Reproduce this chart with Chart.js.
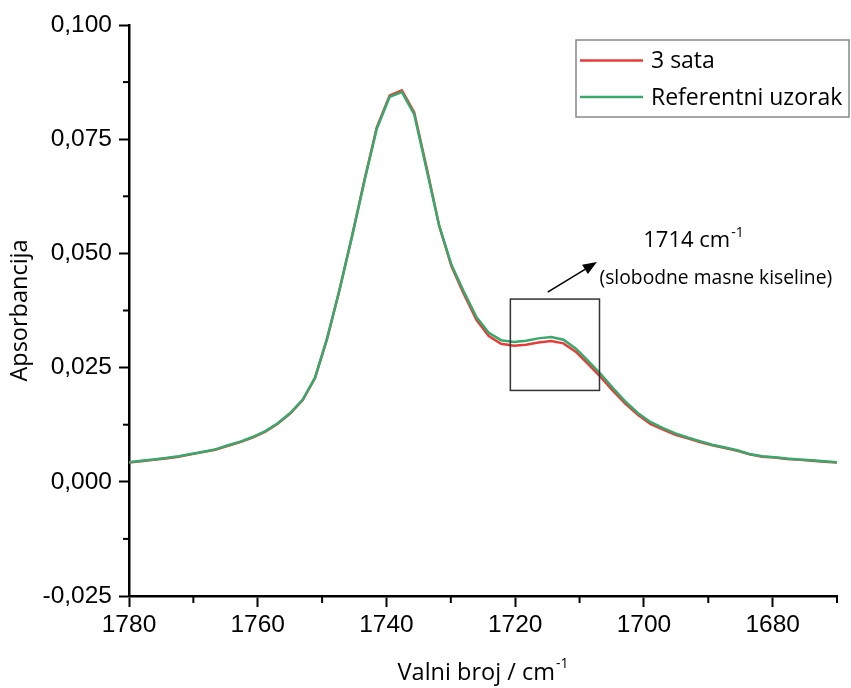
<!DOCTYPE html>
<html>
<head>
<meta charset="utf-8">
<script src="https://cdn.jsdelivr.net/npm/chart.js@4.4.1/dist/chart.umd.min.js"></script>
<style>
  html, body { margin: 0; padding: 0; background: #fff; }
  #wrap { width: 851px; height: 688px; position: relative; }
</style>
</head>
<body>
<div id="wrap"><canvas id="c" width="851" height="688"></canvas></div>
<script>
// ---- data ----
const wavenumbers = [1780.0,1778.1,1776.2,1774.3,1772.3,1770.4,1768.5,1766.6,1764.6,1762.7,
  1760.8,1758.8,1756.9,1755.0,1753.0,1751.1,1749.2,1747.3,1745.3,1743.4,
  1741.5,1739.5,1737.6,1735.7,1733.7,1731.8,1729.9,1728.0,1726.0,1724.1,
  1722.2,1720.2,1718.3,1716.4,1714.4,1712.5,1710.6,1708.7,1706.7,1704.8,
  1702.9,1700.9,1699.0,1697.1,1695.1,1693.2,1691.3,1689.4,1687.4,1685.5,
  1683.6,1681.6,1679.7,1677.8,1675.8,1673.9,1672.0,1670.0];

const referentniUzorak = [0.0043,0.0046,0.0049,0.0052,0.0056,0.0061,0.0066,0.0071,0.0080,0.0088,
  0.0098,0.0111,0.0128,0.0150,0.0180,0.0228,0.0315,0.0420,0.0540,0.0660,
  0.0773,0.0843,0.0853,0.0805,0.0680,0.0560,0.0475,0.0417,0.0360,0.0326,
  0.0310,0.0306,0.0309,0.0314,0.0317,0.0311,0.0292,0.0265,0.0236,0.0205,
  0.0176,0.0150,0.0131,0.0118,0.0106,0.0097,0.0089,0.0081,0.0075,0.0069,
  0.0061,0.0056,0.0054,0.0051,0.0049,0.0047,0.0045,0.0043];

const triSata = [0.0042,0.0045,0.0048,0.0051,0.0055,0.0060,0.0065,0.0070,0.0079,0.0087,
  0.0097,0.0110,0.0127,0.0149,0.0179,0.0227,0.0314,0.0420,0.0541,0.0662,
  0.0776,0.0846,0.0857,0.0809,0.0684,0.0560,0.0472,0.0412,0.0354,0.0319,
  0.0302,0.0298,0.0300,0.0305,0.0308,0.0303,0.0285,0.0258,0.0229,0.0199,
  0.0171,0.0146,0.0127,0.0115,0.0103,0.0095,0.0087,0.0080,0.0074,0.0068,
  0.0060,0.0055,0.0053,0.0050,0.0048,0.0046,0.0044,0.0042];

const seriesNames = ['3 sata', 'Referentni uzorak'];
const xMinorTicks = [1770, 1750, 1730, 1710, 1690, 1670];
const yMinorTicks = [0.0875, 0.0625, 0.0375, 0.0125, -0.0125];
const highlightBox = { x1: 1720.75, x2: 1706.9, y1: 0.020, y2: 0.040 };
const arrowFrom = { x: 1714.95, y: 0.0415 };
const arrowTo = { x: 1707.3, y: 0.0481 };
const annotationPeak = '1714 cm';
const annotationNote = '(slobodne masne kiseline)';
const xTitle = 'Valni broj / cm';
const yTitle = 'Apsorbancija';

const RED = 'rgb(228,62,58)';
const GREEN = 'rgb(58,168,108)';
const TEXTFONT = '"Open Sans", sans-serif';
const TICKFONT = '"Liberation Sans", Arial, sans-serif';

function pts(ys) { return wavenumbers.map((x, i) => ({ x: x, y: ys[i] })); }

const overlay = {
  id: 'overlay',
  afterDraw(chart) {
    const ctx = chart.ctx;
    const xs = chart.scales.x, ys = chart.scales.y;
    const area = chart.chartArea;
    ctx.save();
    // minor ticks
    ctx.strokeStyle = '#000'; ctx.lineWidth = 2;
    xMinorTicks.forEach(v => {
      const px = xs.getPixelForValue(v);
      ctx.beginPath(); ctx.moveTo(px, area.bottom); ctx.lineTo(px, area.bottom + 7); ctx.stroke();
    });
    yMinorTicks.forEach(v => {
      const py = ys.getPixelForValue(v);
      ctx.beginPath(); ctx.moveTo(area.left, py); ctx.lineTo(area.left - 6, py); ctx.stroke();
    });

    // highlight box
    const bx1 = xs.getPixelForValue(highlightBox.x1), bx2 = xs.getPixelForValue(highlightBox.x2);
    const by1 = ys.getPixelForValue(highlightBox.y1), by2 = ys.getPixelForValue(highlightBox.y2);
    ctx.strokeStyle = '#333'; ctx.lineWidth = 1.5;
    ctx.strokeRect(Math.min(bx1, bx2), Math.min(by1, by2), Math.abs(bx2 - bx1), Math.abs(by2 - by1));

    // arrow
    const ax1 = xs.getPixelForValue(arrowFrom.x), ay1 = ys.getPixelForValue(arrowFrom.y);
    const ax2 = xs.getPixelForValue(arrowTo.x), ay2 = ys.getPixelForValue(arrowTo.y);
    const ang = Math.atan2(ay2 - ay1, ax2 - ax1);
    const head = 14, hw = 5.5;
    ctx.strokeStyle = '#000'; ctx.fillStyle = '#000'; ctx.lineWidth = 1.5;
    ctx.beginPath(); ctx.moveTo(ax1, ay1);
    ctx.lineTo(ax2 - head * Math.cos(ang), ay2 - head * Math.sin(ang)); ctx.stroke();
    ctx.beginPath();
    ctx.moveTo(ax2, ay2);
    ctx.lineTo(ax2 - head * Math.cos(ang) + hw * Math.sin(ang), ay2 - head * Math.sin(ang) - hw * Math.cos(ang));
    ctx.lineTo(ax2 - head * Math.cos(ang) - hw * Math.sin(ang), ay2 - head * Math.sin(ang) + hw * Math.cos(ang));
    ctx.closePath(); ctx.fill();

    // annotation texts
    ctx.fillStyle = '#000';
    ctx.textBaseline = 'alphabetic'; ctx.textAlign = 'left';
    ctx.font = '22px ' + TEXTFONT;
    const tx = xs.getPixelForValue(1700.1), ty = ys.getPixelForValue(0.0514);
    ctx.fillText(annotationPeak, tx, ty);
    const w1 = ctx.measureText(annotationPeak).width;
    ctx.font = '14px ' + TEXTFONT;
    ctx.fillText('-1', tx + w1 + 1, ty - 10);
    ctx.font = '19.3px ' + TEXTFONT;
    ctx.textBaseline = 'middle';
    ctx.fillText(annotationNote, xs.getPixelForValue(1706.9), ys.getPixelForValue(0.0445));

    // x axis title with superscript
    ctx.font = '23.5px ' + TEXTFONT;
    ctx.textBaseline = 'alphabetic';
    const wt = ctx.measureText(xTitle).width;
    ctx.font = '14px ' + TEXTFONT;
    const ws = ctx.measureText('-1').width;
    const cx = (area.left + area.right) / 2;
    const startX = cx - (wt + ws + 1) / 2;
    ctx.font = '23.5px ' + TEXTFONT;
    ctx.fillText(xTitle, startX, 680);
    ctx.font = '14px ' + TEXTFONT;
    ctx.fillText('-1', startX + wt + 1, 668);

    // y axis title
    ctx.save();
    ctx.translate(20, (area.top + area.bottom) / 2);
    ctx.rotate(-Math.PI / 2);
    ctx.font = '23.5px ' + TEXTFONT;
    ctx.textAlign = 'center'; ctx.textBaseline = 'middle';
    ctx.fillText(yTitle, 0, 0);
    ctx.restore();

    // legend box
    const lx = 576, ly = 40, lw = 273, lh = 77;
    ctx.strokeStyle = '#888'; ctx.lineWidth = 1.5;
    ctx.strokeRect(lx, ly, lw, lh);
    const colors = [RED, GREEN];
    const rowsY = [60.5, 97];
    ctx.font = '23px ' + TEXTFONT;
    ctx.textAlign = 'left'; ctx.textBaseline = 'middle';
    seriesNames.forEach((n, i) => {
      ctx.strokeStyle = colors[i]; ctx.lineWidth = 2.5;
      ctx.beginPath(); ctx.moveTo(580, rowsY[i]); ctx.lineTo(643, rowsY[i]); ctx.stroke();
      ctx.fillStyle = '#000';
      ctx.fillText(n, 651, rowsY[i] + 1);
    });
    ctx.restore();
  }
};

new Chart(document.getElementById('c'), {
  type: 'line',
  data: {
    datasets: [
      { label: seriesNames[0], data: pts(triSata), borderColor: RED, borderWidth: 2.5,
        pointRadius: 0, tension: 0, fill: false, order: 1 },
      { label: seriesNames[1], data: pts(referentniUzorak), borderColor: GREEN, borderWidth: 2.5,
        pointRadius: 0, tension: 0, fill: false, order: 0 }
    ]
  },
  options: {
    responsive: false,
    animation: false,
    devicePixelRatio: 1,
    layout: { padding: { top: 25, right: 14, left: 0, bottom: 0 } },
    plugins: { legend: { display: false }, title: { display: false }, tooltip: { enabled: false } },
    scales: {
      x: {
        type: 'linear', min: 1670, max: 1780, reverse: true,
        border: { display: true, color: '#000', width: 2.5 },
        grid: { drawOnChartArea: false, drawTicks: true, tickLength: 11, tickWidth: 2, tickColor: '#000' },
        ticks: { stepSize: 20, includeBounds: false, color: '#000', padding: 4, maxRotation: 0,
          font: { family: TICKFONT, size: 24.5 },
          callback: v => String(Math.round(v)) },
        afterFit(s) { s.height = 92; }
      },
      y: {
        type: 'linear', min: -0.025, max: 0.1,
        border: { display: true, color: '#000', width: 2.5 },
        grid: { drawOnChartArea: false, drawTicks: true, tickLength: 10, tickWidth: 2, tickColor: '#000' },
        ticks: { stepSize: 0.025, color: '#000', padding: 7,
          font: { family: TICKFONT, size: 24.5 },
          callback: v => v.toFixed(3).replace('.', ',') },
        afterFit(s) { s.width = 129; }
      }
    }
  },
  plugins: [overlay]
});
</script>
</body>
</html>
